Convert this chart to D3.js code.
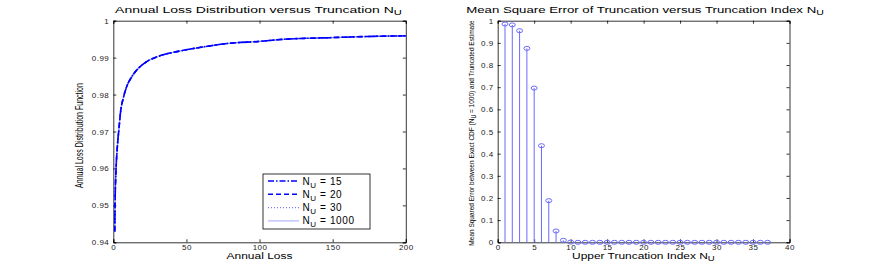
<!DOCTYPE html>
<html><head><meta charset="utf-8">
<script src="https://cdn.jsdelivr.net/npm/d3@7"></script>
<style>
body{margin:0;background:#fff;}
svg{display:block;font-family:"Liberation Sans",Arial,Helvetica,sans-serif;}
</style></head>
<body><svg id="c" width="872" height="273"></svg>
<script>
// ---- Data ----
const lossX = [1.0, 1.2, 1.9, 2.7, 3.9, 5.0, 6.8, 9.1, 12.6, 17.1, 22.8, 31.9, 45.6, 60, 79.8, 100, 114, 148, 182.5, 200];
const cdfValues = [0.9429, 0.9501, 0.9600, 0.9655, 0.9709, 0.9754, 0.9790, 0.9821, 0.9848, 0.9871, 0.9889, 0.9905, 0.9918, 0.9928, 0.9939, 0.9944, 0.9949, 0.9954, 0.9958, 0.9959];
const legendNu = ["15", "20", "30", "1000"];
const leftXTicks = [0, 50, 100, 150, 200];
const leftYTicks = [0.94, 0.95, 0.96, 0.97, 0.98, 0.99, 1];
const truncIndex = [1,2,3,4,5,6,7,8,9,10,11,12,13,14,15,16,17,18,19,20,21,22,23,24,25,26,27,28,29,30,31,32,33,34,35,36,37];
const mseValues = [0.985,0.981,0.955,0.875,0.696,0.436,0.188,0.051,0.009,0.001,0,0,0,0,0,0,0,0,0,0,0,0,0,0,0,0,0,0,0,0,0,0,0,0,0,0,0];
const rightXTicks = [0,5,10,15,20,25,30,35,40];
const rightYTicks = [0,0.1,0.2,0.3,0.4,0.5,0.6,0.7,0.8,0.9,1];

const svg = d3.select("#c");

function label(g, x, y, parts, size, width, rotate){
  const t = g.append("text").attr("text-anchor","middle").attr("font-size", size).attr("fill","#000");
  parts.forEach(p=>{
    const ts = t.append("tspan").text(p.t);
    if(p.sub){ ts.attr("font-size", size*0.8).attr("dy", size*0.3); }
    else if(p.after){ ts.attr("dy", -size*0.3); }
  });
  const w = t.node().getBBox().width;
  const s = width / w;
  if(rotate) t.attr("transform", `translate(${x},${y}) rotate(-90) scale(${s},1)`);
  else t.attr("transform", `translate(${x},${y}) scale(${s},1)`);
  return t;
}

function frame(g, xs, ys, xt, yt, xfmt, yfmt){
  const [x0,x1] = xs.range(), [y0,y1] = ys.range();
  g.append("g").attr("transform",`translate(0,${y0})`)
    .call(d3.axisBottom(xs).tickValues(xt).tickSize(-3).tickPadding(2.5).tickFormat(xfmt));
  g.append("g").attr("transform",`translate(${x0},0)`)
    .call(d3.axisLeft(ys).tickValues(yt).tickSize(-3).tickPadding(4).tickFormat(yfmt));
  g.append("g").attr("transform",`translate(0,${y1})`)
    .call(d3.axisTop(xs).tickValues(xt).tickSize(-3).tickFormat(""));
  g.append("g").attr("transform",`translate(${x1},0)`)
    .call(d3.axisRight(ys).tickValues(yt).tickSize(-3).tickFormat(""));
  g.selectAll(".domain").attr("stroke","#000").attr("stroke-width",0.8);
  g.selectAll(".tick line").attr("stroke","#000").attr("stroke-width",0.8);
  g.selectAll(".tick text").attr("font-size",8).attr("fill","#222")
    .attr("font-family","'Liberation Sans',Arial,sans-serif").style("letter-spacing","0.5px");
}

// ---- Left chart ----
const gL = svg.append("g");
const xL = d3.scaleLinear().domain([0,200]).range([113.3, 405.8]);
const yL = d3.scaleLinear().domain([0.94,1]).range([242.3, 20.7]);
frame(gL, xL, yL, leftXTicks, leftYTicks, d3.format("d"), d=> d===1 ? "1" : d3.format(".2f")(d));

const lineL = d3.line().x((d,i)=>xL(lossX[i])).y(d=>yL(d)).curve(d3.curveMonotoneX);
const styles = [
  {color:"#0000ff", dash:"6,2,1.5,2", w:1.6},
  {color:"#0000ff", dash:"5,3", w:1.6},
  {color:"#7878ff", dash:"1,2", w:1.2},
  {color:"#b4b4ff", dash:null, w:1.2}
];
[3,2,1,0].forEach(k=>{
  const p = gL.append("path").datum(cdfValues).attr("d", lineL).attr("fill","none")
    .attr("stroke", styles[k].color).attr("stroke-width", styles[k].w);
  if(styles[k].dash) p.attr("stroke-dasharray", styles[k].dash);
});

// legend
const lg = gL.append("g");
lg.append("rect").attr("x",263).attr("y",174).attr("width",107).attr("height",55)
  .attr("fill","#fff").attr("stroke","#000").attr("stroke-width",0.8);
legendNu.forEach((v,i)=>{
  const y = 181 + i*13.3;
  const l = lg.append("line").attr("x1",268).attr("x2",299).attr("y1",y).attr("y2",y)
    .attr("stroke", styles[i].color).attr("stroke-width", styles[i].w);
  if(styles[i].dash) l.attr("stroke-dasharray", styles[i].dash);
  const t = lg.append("text").attr("x",302.5).attr("y",y+3.5).attr("font-size",10).attr("fill","#000")
    .style("letter-spacing","0.6px");
  t.append("tspan").text("N");
  t.append("tspan").text("U").attr("font-size",8).attr("dy",3);
  t.append("tspan").text(" = " + v).attr("dy",-3);
});

label(svg, 258.5, 12.5, [{t:"Annual Loss Distribution versus Truncation N"},{t:"U",sub:true}], 9, 287, false);
label(svg, 259.5, 258.5, [{t:"Annual Loss"}], 8.5, 66, false);
label(svg, 83.3, 135.5, [{t:"Annual Loss Distribution Function"}], 10, 105, true);

// ---- Right chart ----
const gR = svg.append("g");
const xR = d3.scaleLinear().domain([0,40]).range([497.7, 789.5]);
const yR = d3.scaleLinear().domain([0,1]).range([242.3, 20.7]);
frame(gR, xR, yR, rightXTicks, rightYTicks, d3.format("d"), d=> d===0||d===1 ? String(d) : d3.format(".1f")(d));

const stemColor = "#6a6aff";
gR.selectAll("line.stem").data(mseValues).join("line").attr("class","stem")
  .attr("x1",(d,i)=>xR(truncIndex[i])).attr("x2",(d,i)=>xR(truncIndex[i]))
  .attr("y1", yR(0)).attr("y2", d=>yR(d)).attr("stroke",stemColor).attr("stroke-width",1);
gR.selectAll("ellipse.mk").data(mseValues).join("ellipse").attr("class","mk")
  .attr("cx",(d,i)=>xR(truncIndex[i])).attr("cy", d=>yR(d)).attr("rx",3).attr("ry",2)
  .attr("fill","none").attr("stroke",stemColor).attr("stroke-width",1);

label(svg, 645, 12.5, [{t:"Mean Square Error of Truncation versus Truncation Index N"},{t:"U",sub:true}], 9, 358, false);
label(svg, 643.4, 258.5, [{t:"Upper Truncation Index N"},{t:"U",sub:true}], 8.5, 143, false);
label(svg, 474, 133, [{t:"Mean Squared Error between Exact CDF (N"},{t:"U",sub:true},{t:" = 1000) and Truncated Estimate",after:true}], 8, 226, true);
</script></body></html>
